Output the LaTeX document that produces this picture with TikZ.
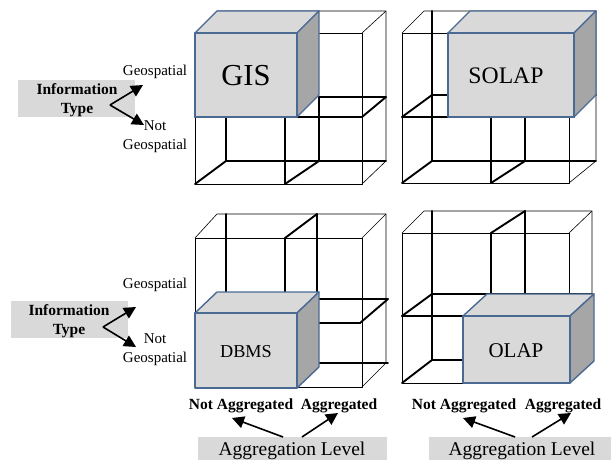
\documentclass[tikz,border=0pt]{standalone}
\usepackage{fontspec}
\setmainfont{Liberation Serif}
\usetikzlibrary{arrows.meta}
\definecolor{boxface}{HTML}{D9D9D9}
\definecolor{boxside}{HTML}{A6A6A6}
\definecolor{boxedge}{HTML}{4A6A94}
\definecolor{lblbg}{HTML}{D9D9D9}
\tikzset{
  wire/.style={line width=0.6pt, line join=round},
  divide/.style={line width=1.9pt, line cap=round, line join=round},
  solid edge/.style={draw=boxedge, line width=1.4pt, line join=round},
  arr/.style={line width=1.6pt, -{Triangle[length=12pt,width=12pt]}},
  lbl/.style={inner sep=0pt, align=center, font=\fontsize{15}{19}\selectfont},
  lblbold/.style={inner sep=0pt, align=center, font=\fontsize{15.5}{19}\selectfont\bfseries},
  aglbl/.style={inner sep=0pt, anchor=base, font=\fontsize{15.5}{19}\selectfont\bfseries},
  graybox/.style={fill=lblbg, draw=none},
}
% #1 x1, #2 y1, #3 x2, #4 y2, #5 dx, #6 dy
\newcommand{\solidcube}[6]{%
  \filldraw[solid edge, fill=boxface] (#1,#2) -- (#3,#2) -- ++(#5,#6) -- ++({#1-#3},0) -- cycle;
  \filldraw[solid edge, fill=boxside] (#3,#2) -- ++(#5,#6) -- ++(0,{#4-#2}) -- (#3,#4) -- cycle;
  \filldraw[solid edge, fill=boxface] (#1,#2) rectangle (#3,#4);
}
\begin{document}
\begin{tikzpicture}[x=1pt, y=-1pt]
\useasboundingbox (0,0) rectangle (611,460);

% ================= top-left cube (GIS) =================
\draw[wire] (195,33) rectangle (362,184);
\draw[wire] (195,33) -- (217,11) -- (386,11) -- (386,161) -- (362,184);
\draw[wire] (362,33) -- (386,11);
\draw[divide] (195,117) -- (362,117) -- (386,97) -- (319,97);
\draw[divide] (226,117) -- (226,161) -- (386,161);
\draw[divide] (195,184) -- (226,161);
\draw[divide] (285,117) -- (285,184) -- (319,161) -- (319,97);
\solidcube{195}{33}{297}{117}{22}{-22}
\node[font=\fontsize{30.5}{34}\selectfont, inner sep=0pt] (gis) at (246,76) {GIS};

% ================= top-right cube (SOLAP) =================
\draw[wire] (402,33) rectangle (569,183);
\draw[wire] (402,33) -- (424,11) -- (596,11) -- (596,161) -- (569,183);
\draw[wire] (569,33) -- (596,11);
\draw[divide] (432,11) -- (432,161) -- (596,161);
\draw[divide] (402,183) -- (432,161);
\draw[divide] (402,117) -- (574,117);
\draw[divide] (402,117) -- (432,95) -- (596,95);
\draw[divide] (491,117) -- (491,183) -- (525,161) -- (525,95);
\solidcube{448}{33}{574}{117}{22}{-22}
\node[font=\fontsize{23.7}{28}\selectfont, inner sep=0pt] (solap) at (506,76) {SOLAP};

% ================= bottom-left cube (DBMS) =================
\draw[wire] (195,238) rectangle (362,387);
\draw[wire] (195,238) -- (217,214) -- (386,214) -- (386,363) -- (362,387);
\draw[wire] (362,238) -- (386,214);
\draw[divide] (226,214) -- (226,330);
\draw[divide] (285,388) -- (285,238) -- (317,214) -- (317,330);
\draw[divide] (195,323) -- (360,323) -- (388,299) -- (300,299);
\draw[divide] (300,363) -- (388,363);
\solidcube{195}{313}{297}{388}{22}{-21}
\node[font=\fontsize{18.2}{22}\selectfont, inner sep=0pt] (dbms) at (246,352) {DBMS};

% ================= bottom-right cube (OLAP) =================
\draw[wire] (402,233) rectangle (569,383);
\draw[wire] (402,233) -- (424,211) -- (592,211) -- (592,361) -- (569,383);
\draw[wire] (569,233) -- (592,211);
\draw[divide] (432,211) -- (432,360) -- (592,360);
\draw[divide] (402,383) -- (432,360);
\draw[divide] (402,316) -- (569,316);
\draw[divide] (402,316) -- (432,294) -- (592,294);
\draw[divide] (491,316) -- (491,233) -- (525,211) -- (525,294);
\solidcube{463}{316}{570}{383}{24}{-22}
\node[font=\fontsize{21}{25}\selectfont, inner sep=0pt] (olap) at (516,351) {OLAP};

% ================= information type labels (top) =================
\node[graybox, minimum width=117pt, minimum height=37pt, inner sep=0pt] (itboxA) at (76.5,98.5) {};
\node[lblbold] (itA) at (77,100) {Information\\Type};
\node[lbl] (geoA) at (155,72) {Geospatial};
\node[lbl] (ngeoA) at (155,137) {Not\\Geospatial};
\coordinate (itAstart) at (110,105);
\coordinate (geoAtip) at (143,85);
\coordinate (ngeoAtip) at (144,125);
\draw[arr] (itAstart) -- (geoAtip);
\draw[arr] (itAstart) -- (ngeoAtip);

% ================= information type labels (bottom) =================
\node[graybox, minimum width=117pt, minimum height=37pt, inner sep=0pt] (itboxB) at (69.5,319.5) {};
\node[lblbold] (itB) at (69,321) {Information\\Type};
\node[lbl] (geoB) at (155,285) {Geospatial};
\node[lbl] (ngeoB) at (155,350) {Not\\Geospatial};
\coordinate (itBstart) at (103,327);
\coordinate (geoBtip) at (136,307);
\coordinate (ngeoBtip) at (136,347);
\draw[arr] (itBstart) -- (geoBtip);
\draw[arr] (itBstart) -- (ngeoBtip);

% ================= aggregation labels (left) =================
\node[aglbl] (naggL) at (241,409) {Not Aggregated};
\node[aglbl] (aggL) at (339,409) {Aggregated};
\node[graybox, minimum width=189pt, minimum height=30pt, inner sep=0pt, anchor=north west] (alboxL) at (198,437) {};
\node[inner sep=0pt, anchor=base, font=\fontsize{19.5}{24}\selectfont] (alL) at (292,455) {Aggregation Level};
\coordinate (alLa) at (283,437);
\coordinate (alLb) at (302,437);
\coordinate (naggLtip) at (232,418);
\coordinate (aggLtip) at (338,413);
\draw[arr] (alLa) -- (naggLtip);
\draw[arr] (alLb) -- (aggLtip);

% ================= aggregation labels (right) =================
\node[aglbl] (naggR) at (464,409) {Not Aggregated};
\node[aglbl] (aggR) at (563,409) {Aggregated};
\node[graybox, minimum width=185pt, minimum height=30pt, inner sep=0pt, anchor=north west] (alboxR) at (429,437) {};
\node[inner sep=0pt, anchor=base, font=\fontsize{19.5}{24}\selectfont] (alR) at (522,455) {Aggregation Level};
\coordinate (alRa) at (515,437);
\coordinate (alRb) at (532,437);
\coordinate (naggRtip) at (463,418);
\coordinate (aggRtip) at (571,413);
\draw[arr] (alRa) -- (naggRtip);
\draw[arr] (alRb) -- (aggRtip);
\end{tikzpicture}
\end{document}
